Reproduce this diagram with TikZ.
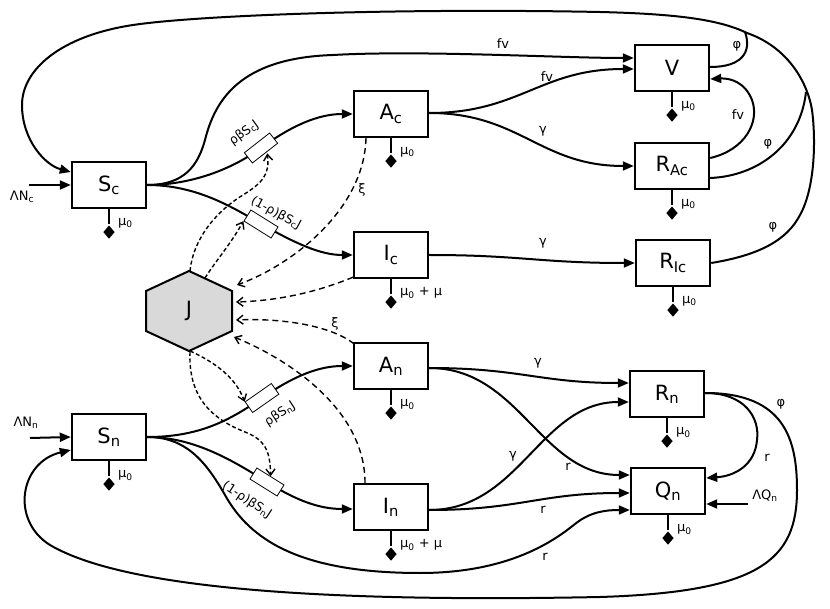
\documentclass[tikz,border=0pt]{standalone}
\usepackage{fontspec}
\setmainfont{DejaVu Sans}
\usetikzlibrary{arrows.meta,shapes.geometric,calc}
\tikzset{
 box/.style={draw, line width=2.4pt, minimum width=74pt, minimum height=46pt, inner sep=0pt, font=\fontsize{21}{24}\selectfont},
 flow/.style={line width=2pt, -{Triangle[length=11pt,width=9pt]}},
 flowline/.style={line width=2pt},
 dflow/.style={line width=1.4pt, dash pattern=on 6pt off 4pt, -{Straight Barb[length=6pt,width=9pt]}},
 jflow/.style={line width=1.4pt, dash pattern=on 4pt off 2.5pt, -{Straight Barb[length=6pt,width=9pt]}},
 lab/.style={font=\fontsize{13}{15}\selectfont, inner sep=1pt},
 rlab/.style={font=\fontsize{12.5}{14}\selectfont, inner sep=0pt},
 ratebox/.style={draw, line width=0.8pt, fill=white, minimum width=32pt, minimum height=13pt, inner sep=0pt},
 sinkd/.style={diamond, fill=black, inner sep=0pt, minimum width=12pt, minimum height=14pt},
}
\newcommand\sinkof[2]{%
 \draw[line width=1.8pt] (#1.south) -- ++(0,15) node[sinkd,anchor=north] (#1d) {};
 \node[lab,anchor=west] (#1m) at ($(#1.south)+(8,14)$) {#2};}
\begin{document}
\begin{tikzpicture}[x=1pt,y=-1pt]
\useasboundingbox (0,0) rectangle (830,609);
% boxes
\node[box] (Sc) at (109,185) {S\textsubscript{c}};
\node[box] (Sn) at (109,437) {S\textsubscript{n}};
\node[box] (Ac) at (391,114) {A\textsubscript{c}};
\node[box] (Ic) at (391,255) {I\textsubscript{c}};
\node[box] (An) at (391,366) {A\textsubscript{n}};
\node[box] (In) at (391,507) {I\textsubscript{n}};
\node[box] (V) at (672,68) {V};
\node[box] (RAc) at (672,166) {R\textsubscript{Ac}};
\node[box] (RIc) at (673,263) {R\textsubscript{Ic}};
\node[box] (Rn) at (667,394) {R\textsubscript{n}};
\node[box] (Qn) at (668,491) {Q\textsubscript{n}};
% J hexagon
\draw[line width=2pt, fill=gray!30] (189,271) -- (232,291) -- (232,331) -- (189,351) -- (146,331) -- (146,291) -- cycle;
\node[font=\fontsize{21}{24}\selectfont] (J) at (189,311) {J};
% sinks
\sinkof{Sc}{μ\textsubscript{0}}
\sinkof{Sn}{μ\textsubscript{0}}
\sinkof{Ac}{μ\textsubscript{0}}
\sinkof{Ic}{μ\textsubscript{0} + μ}
\sinkof{An}{μ\textsubscript{0}}
\sinkof{In}{μ\textsubscript{0} + μ}
\sinkof{V}{μ\textsubscript{0}}
\sinkof{RAc}{μ\textsubscript{0}}
\sinkof{RIc}{μ\textsubscript{0}}
\sinkof{Rn}{μ\textsubscript{0}}
\sinkof{Qn}{μ\textsubscript{0}}
% rate box centres
\coordinate (rb1) at (261,148);
\coordinate (rb2) at (261,224);
\coordinate (rb3) at (262,398);
\coordinate (rb4) at (267,482);
% inflows
\coordinate (lnc) at (29,185);
\coordinate (lnn) at (30,438);
\coordinate (lqn) at (748,504);
\draw[flow] (lnc) -- (Sc.west);
\draw[flow] (lnn) -- (Sn.west);
\draw[flow] (lqn) -- ($(Qn.east)+(0,13)$);
\node[lab] (lncl) at (22,197) {ΛN\textsubscript{c}};
\node[lab] (lnnl) at (26,423) {ΛN\textsubscript{n}};
\node[lab] (lqnl) at (765,496) {ΛQ\textsubscript{n}};
% S_c fan
\draw[flow] (Sc.east) .. controls (185,185) and (198,165) .. (205,140) .. controls (215,100) and (240,58) .. (333,55) .. controls (420,50) and (560,58) .. ($(V.west)+(0,-10)$);
\draw[flow] (Sc.east) .. controls (190,185) and (231,170) .. (rb1) .. controls (291,126) and (318,114) .. (Ac.west);
\draw[flow] (Sc.east) .. controls (195,185) and (231,206) .. (rb2) .. controls (295,243) and (320,255) .. (Ic.west);
% S_n fan
\draw[flow] (Sn.east) .. controls (200,437) and (230,420) .. (rb3) .. controls (295,375) and (320,366) .. (An.west);
\draw[flow] (Sn.east) .. controls (195,437) and (235,462) .. (rb4) .. controls (297,501) and (320,509) .. ($(In.west)+(0,2)$);
\draw[flow] (Sn.east) .. controls (185,437) and (205,460) .. (225,495) .. controls (250,540) and (300,573) .. (420,573) .. controls (510,573) and (555,540) .. (575,524) .. controls (590,512) and (605,510) .. ($(Qn.west)+(0,19)$);
% A_c, I_c
\draw[flow] ($(Ac.east)+(0,-1)$) .. controls (520,113) and (540,69) .. ($(V.west)+(0,1)$);
\draw[flow] ($(Ac.east)+(0,-1)$) .. controls (520,113) and (540,166) .. (RAc.west);
\draw[flow] (Ic.east) .. controls (520,255) and (540,263) .. (RIc.west);
% A_n, I_n
\draw[flow] ($(An.east)+(0,2)$) .. controls (520,368) and (540,383) .. ($(Rn.west)+(0,-11)$);
\draw[flow] ($(An.east)+(0,2)$) .. controls (520,368) and (540,475) .. ($(Qn.west)+(0,-16)$);
\draw[flow] ($(In.east)+(0,3)$) .. controls (520,510) and (540,402) .. ($(Rn.west)+(0,8)$);
\draw[flow] ($(In.east)+(0,3)$) .. controls (520,510) and (540,493) .. ($(Qn.west)+(0,2)$);
% R_n -> Q_n
\draw[flow] ($(Rn.east)+(0,-1)$) .. controls (745,393) and (760,418) .. (757,440) .. controls (755,465) and (735,476) .. ($(Qn.east)+(0,-13)$);
% R_Ac -> V
\draw[flow] ($(RAc.east)+(0,-8)$) .. controls (745,150) and (760,122) .. (752,100) .. controls (745,82) and (730,78) .. ($(V.east)+(0,11)$);
% big top loop to S_c
\draw[flow] (RIc.east) .. controls (760,255) and (787,240) .. (800,215) .. controls (815,188) and (816,140) .. (812,110) .. controls (808,85) and (790,48) .. (747,33) .. controls (720,20) and (680,14) .. (600,12) .. controls (400,8) and (200,15) .. (133,25) .. controls (60,36) and (22,70) .. (22,105) .. controls (22,140) and (45,165) .. ($(Sc.west)+(0,-13)$);
\coordinate (m1) at (745,32);
\coordinate (m2) at (806,92);
\draw[flowline] ($(V.east)+(0,-1)$) .. controls (742,67) and (752,52) .. (m1);
\draw[flowline] ($(RAc.east)+(0,12)$) .. controls (758,176) and (800,145) .. (m2);
% big bottom loop to S_n
\draw[flow] ($(Rn.east)+(0,-1)$) .. controls (785,393) and (797,440) .. (797,490) .. controls (797,560) and (760,592) .. (600,597) .. controls (350,602) and (130,592) .. (50,545) .. controls (10,520) and (20,462) .. ($(Sn.west)+(0,13)$);
% dashed into J
\draw[dflow] ($(Ac.south)+(-25,0)$) .. controls (364,210) and (292,265) .. ($(J)+(48,-26)$);
\draw[dflow] ($(Ic.south)+(-38,-2)$) .. controls (310,295) and (270,301) .. ($(J)+(47,-9)$);
\draw[dflow] ($(An.north)+(-37,2)$) .. controls (330,325) and (280,318) .. ($(J)+(47,9)$);
\draw[dflow] ($(In.north)+(-26,0)$) .. controls (365,410) and (290,360) .. ($(J)+(45,26)$);
% rate boxes
\node[ratebox, rotate=38] (rb1b) at (rb1) {};
\node[ratebox, rotate=-32] (rb2b) at (rb2) {};
\node[ratebox, rotate=35] (rb3b) at (rb3) {};
\node[ratebox, rotate=-32] (rb4b) at (rb4) {};
\node[rlab, rotate=36] (rb1l) at (244,133) {ρβS\textsubscript{c}J};
\node[rlab, rotate=-28] (rb2l) at (276,213) {(1-ρ)βS\textsubscript{c}J};
\node[rlab, rotate=33] (rb3l) at (280,414) {ρβS\textsubscript{n}J};
\node[rlab, rotate=-33] (rb4l) at (247,500) {(1-ρ)βS\textsubscript{n}J};
% dashed from J to rate boxes
\draw[jflow] ($(J)+(1,-40)$) .. controls (193,240) and (215,212) .. (243,195) .. controls (262,183) and (270,175) .. ($(rb1b.south)+(2,0)$);
\draw[jflow] ($(J)+(16,-33)$) .. controls (215,262) and (230,245) .. (rb2b.south west);
\draw[jflow] ($(J)+(1,40)$) .. controls (210,360) and (235,375) .. (rb3b.north west);
\draw[jflow] ($(J)+(1,41)$) .. controls (188,400) and (215,420) .. (245,432) .. controls (265,440) and (270,450) .. (rb4b.north);
% labels
\node[lab] (l1) at (503,44) {fv};
\node[lab] (l2) at (547,77) {fv};
\node[lab] (l3) at (543,131) {γ};
\node[lab] (l4) at (543,243) {γ};
\node[lab] (l5) at (738,115) {fv};
\node[lab] (l6) at (737,46) {φ};
\node[lab] (l7) at (768,144) {φ};
\node[lab] (l8) at (773,227) {φ};
\node[lab] (l9) at (362,190) {ξ};
\node[lab] (l10) at (335,324) {ξ};
\node[lab] (l11) at (538,363) {γ};
\node[lab] (l12) at (568,467) {r};
\node[lab] (l13) at (513,456) {γ};
\node[lab] (l14) at (543,510) {r};
\node[lab] (l15) at (545,557) {r};
\node[lab] (l16) at (767,458) {r};
\node[lab] (l17) at (781,404) {φ};
\end{tikzpicture}
\end{document}
